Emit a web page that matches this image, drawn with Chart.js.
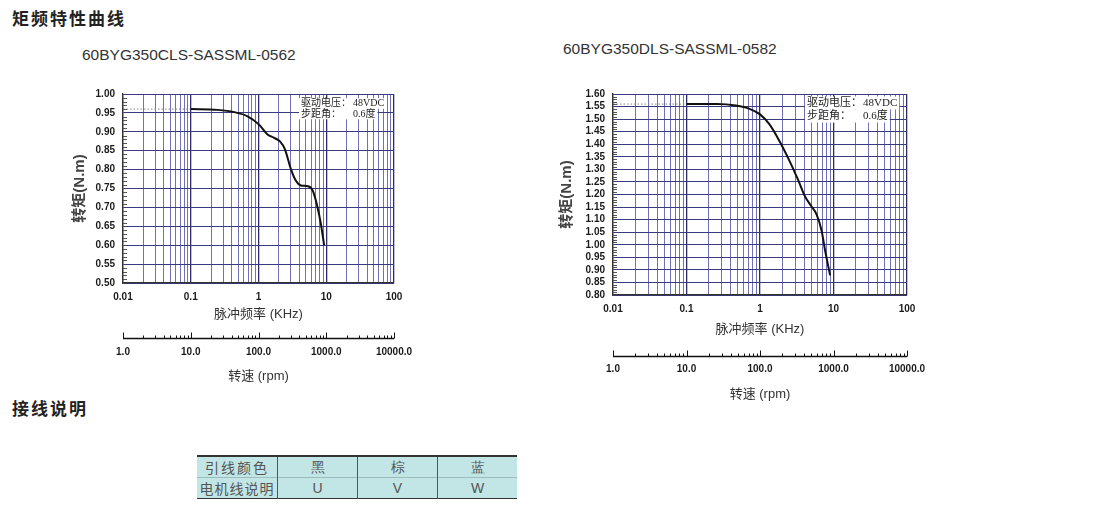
<!DOCTYPE html>
<html>
<head>
<meta charset="utf-8">
<script src="https://cdn.jsdelivr.net/npm/chart.js@4"></script>
<style>
  body { margin: 0; width: 1102px; height: 514px; background: #fff; position: relative; overflow: hidden;
         font-family: "Liberation Sans", "Noto Sans CJK SC", sans-serif; }
  .head { position: absolute; left: 12px; font-size: 17px; line-height: 20px; font-weight: bold; letter-spacing: 2px; color: #222;
          font-family: "Noto Sans CJK SC", sans-serif; }
  .model { position: absolute; font-size: 15.5px; line-height: 18px; color: #333; }
  .box { position: absolute; }
  table.wire { position: absolute; left: 197px; top: 455px; border-collapse: collapse; background: #c2e5e5;
               border-top: 2px solid #333; border-bottom: 1.5px solid #333; color: #555; font-size: 14px;
               font-family: "Noto Sans CJK SC", sans-serif; }
  table.wire td { height: 20px; padding: 0; text-align: center; border-left: 1px solid #555; line-height: 20px; }
  table.wire td:first-child { border-left: none; width: 80px; letter-spacing: 2px; }
  table.wire td.c { width: 79px; font-family: "Liberation Sans", sans-serif; }
  table.wire tr + tr td { border-top: 1px solid #9cbcbc; }
</style>
</head>
<body>
<div class="head" style="top:8px">矩频特性曲线</div>
<div class="model" style="left:82px;top:46px">60BYG350CLS-SASSML-0562</div>
<div class="model" style="left:563px;top:40px">60BYG350DLS-SASSML-0582</div>
<div class="box" style="left:60px;top:80px;width:370px;height:307px"><canvas id="chartCLS"></canvas></div>
<div class="box" style="left:550px;top:80px;width:390px;height:324px"><canvas id="chartDLS"></canvas></div>
<div class="head" style="top:398px">接线说明</div>
<table class="wire">
  <tr><td>引线颜色</td><td class="c">黑</td><td class="c">棕</td><td class="c">蓝</td></tr>
  <tr><td style="letter-spacing:1px">电机线说明</td><td class="c">U</td><td class="c">V</td><td class="c">W</td></tr>
</table>
<script>
// axis decades shared by both plots
const kHzDecades = [0.01, 0.1, 1, 10, 100];
const kHzLabels = ['0.01', '0.1', '1', '10', '100'];
const rpmDecades = [1, 10, 100, 1000, 10000];
const rpmLabels = ['1.0', '10.0', '100.0', '1000.0', '10000.0'];

// 60BYG350CLS-SASSML-0562 (kHz -> N.m)
const freqCLS = [0.1, 0.25, 0.44, 0.69, 1.02, 1.36, 1.7, 2.09, 2.45, 3.0, 3.55, 4.22, 5.4, 6.3, 7.4, 8.3, 9.3];
const torqueCLS = [0.96, 0.958, 0.952, 0.941, 0.919, 0.893, 0.884, 0.874, 0.854, 0.802, 0.771, 0.758, 0.756, 0.745, 0.702, 0.658, 0.60];
const rangeCLS = [0.5, 1.0];

// 60BYG350DLS-SASSML-0582
const freqDLS = [0.1, 0.26, 0.47, 0.72, 1.0, 1.34, 1.83, 2.5, 3.3, 4.1, 5.0, 5.9, 6.9, 7.7, 9.0];
const torqueDLS = [1.56, 1.56, 1.554, 1.541, 1.519, 1.48, 1.414, 1.336, 1.258, 1.192, 1.153, 1.12, 1.055, 0.976, 0.878];
const rangeDLS = [0.8, 1.6];

// dotted lead-in from the left edge to the start of the curve
const leadFreq = [0.01, 0.1];

const noteLabels = ['驱动电压：', '步距角：'];
const noteValues = ['48VDC', '0.6度'];

const tickFont = { family: '"Liberation Sans", Arial, sans-serif', size: 10, weight: 'bold' };
const titleFont = { family: '"Liberation Sans", "Noto Sans CJK SC", sans-serif', size: 13 };

function logTicks(decades) {
    const out = [];
    decades.forEach((d, i) => {
        if (i === decades.length - 1) { out.push({ value: d, major: true }); return; }
        for (let m = 1; m < 10; m++) out.push({ value: d * m, major: m === 1 });
    });
    return out;
}

function decadeLabel(decades, labels) {
    return function(v, i, ts) {
        if (!ts[i].major) return '';
        const k = Math.round(Math.log10(v / decades[0]));
        return labels[k];
    };
}

// minor torque ticks, rpm scale line and the drive note
const axisMarks = {
    id: 'axisMarks',
    afterDraw(chart, args, o) {
        const { ctx, chartArea: a, scales } = chart;
        const y = scales.y, r = scales.x2;
        ctx.save();
        ctx.strokeStyle = '#555';
        ctx.lineWidth = 1;
        y.ticks.forEach(t => {
            if (Math.round(t.value * 100) % 5 === 0) return;
            const py = Math.round(y.getPixelForValue(t.value)) + 0.5;
            ctx.beginPath(); ctx.moveTo(a.left, py); ctx.lineTo(a.left + 4, py); ctx.stroke();
        });

        const base = Math.round(r.top + o.rpmLine) + 0.5;
        ctx.strokeStyle = '#111';
        ctx.lineWidth = 1.3;
        ctx.beginPath(); ctx.moveTo(r.left, base); ctx.lineTo(r.right, base); ctx.stroke();
        ctx.lineWidth = 1;
        r.ticks.forEach(t => {
            const px = Math.round(r.getPixelForValue(t.value)) + 0.5;
            ctx.beginPath(); ctx.moveTo(px, base); ctx.lineTo(px, base - (t.major ? 6 : 3)); ctx.stroke();
        });

        // note in the top right corner
        ctx.font = o.noteSize + 'px "Liberation Serif", "Noto Sans CJK SC", serif';
        ctx.textBaseline = 'middle';
        const x0 = a.right - o.noteRight;
        noteLabels.forEach((lab, i) => {
            const ty = a.top + o.noteTop + i * o.noteGap;
            const w = o.valueOffset + ctx.measureText(noteValues[i]).width;
            ctx.fillStyle = '#fff';
            ctx.fillRect(x0 - 2, ty - o.noteGap / 2, w + 4, o.noteGap);
            ctx.fillStyle = '#222';
            ctx.fillText(lab, x0, ty);
            ctx.fillText(noteValues[i], x0 + o.valueOffset, ty);
        });
        ctx.restore();
    }
};

function makeTorqueChart(id, freq, torque, range, L) {
    const curve = freq.map((f, i) => ({ x: f, y: torque[i] }));
    const lead = leadFreq.map(f => ({ x: f, y: torque[0] }));
    return new Chart(document.getElementById(id), {
        type: 'line',
        data: {
            datasets: [
                { data: curve, borderColor: '#111', borderWidth: 2, pointRadius: 0,
                  cubicInterpolationMode: 'monotone', fill: false },
                { data: lead, borderColor: '#888', borderWidth: 1, borderDash: [1.5, 2],
                  pointRadius: 0, fill: false }
            ]
        },
        options: {
            responsive: true,
            maintainAspectRatio: false,
            animation: false,
            events: [],
            layout: { padding: { top: L.padTop, right: L.padRight, left: 0, bottom: 0 } },
            plugins: {
                legend: { display: false },
                tooltip: { enabled: false },
                axisMarks: L
            },
            scales: {
                x: {
                    type: 'logarithmic', min: kHzDecades[0], max: kHzDecades[kHzDecades.length - 1],
                    afterBuildTicks: s => { s.ticks = logTicks(kHzDecades); },
                    afterFit: s => { s.height = L.xHeight; },
                    grid: {
                        drawTicks: false,
                        color: c => (c.tick && c.tick.major) ? '#2c2c6e' : 'rgba(88,88,170,0.85)',
                        lineWidth: c => (c.tick && c.tick.major) ? 1.3 : 1
                    },
                    border: { color: '#333', width: 1.3 },
                    ticks: { autoSkip: false, maxRotation: 0, padding: L.xPad, color: '#1a1a1a', font: tickFont,
                             callback: decadeLabel(kHzDecades, kHzLabels) },
                    title: { display: true, text: '脉冲频率 (KHz)', color: '#333', font: titleFont,
                             padding: { top: 0, bottom: 3 } }
                },
                x2: {
                    type: 'logarithmic', position: 'bottom', weight: 1,
                    min: rpmDecades[0], max: rpmDecades[rpmDecades.length - 1],
                    afterBuildTicks: s => { s.ticks = logTicks(rpmDecades); },
                    afterFit: s => { s.height = L.rpmHeight; },
                    // hidden tick marks only push the labels down
                    grid: { display: false, drawTicks: true, tickLength: L.rpmGap },
                    border: { display: false },
                    ticks: { autoSkip: false, maxRotation: 0, padding: 0, color: '#1a1a1a', font: tickFont,
                             callback: decadeLabel(rpmDecades, rpmLabels) },
                    title: { display: true, text: '转速 (rpm)', color: '#333', font: titleFont,
                             padding: { top: 0, bottom: L.rpmTitlePad } }
                },
                y: {
                    min: range[0], max: range[1],
                    afterFit: s => { s.width = L.yWidth; },
                    grid: {
                        drawTicks: false,
                        color: c => (Math.round(c.tick.value * 100) % 5 === 0) ? '#3a3a80' : 'rgba(0,0,0,0)',
                        lineWidth: 1
                    },
                    border: { color: '#333', width: 1.3 },
                    ticks: { stepSize: 0.01, autoSkip: false, padding: 8, color: '#1a1a1a', font: tickFont,
                             callback: v => (Math.round(v * 100) % 5 === 0) ? v.toFixed(2) : '' },
                    title: { display: true, text: '转矩(N.m)', color: '#444',
                             font: { family: '"Liberation Sans", "Noto Sans CJK SC", sans-serif', size: 15, weight: 'bold' },
                             padding: { top: L.yTitlePad, bottom: 0 } }
                }
            }
        },
        plugins: [axisMarks]
    });
}

makeTorqueChart('chartCLS', freqCLS, torqueCLS, rangeCLS, {
    padTop: 10.5, padRight: 36, yWidth: 63, xHeight: 42, xPad: 8,
    rpmHeight: 62, rpmLine: 13, rpmGap: 21, rpmTitlePad: 3, yTitlePad: 11,
    noteRight: 93, noteTop: 9.5, noteGap: 10.5, noteSize: 10, valueOffset: 52
});
makeTorqueChart('chartDLS', freqDLS, torqueDLS, rangeDLS, {
    padTop: 10, padRight: 33, yWidth: 63, xHeight: 45, xPad: 8,
    rpmHeight: 64, rpmLine: 16, rpmGap: 23, rpmTitlePad: 2, yTitlePad: 8,
    noteRight: 100, noteTop: 9, noteGap: 13, noteSize: 11, valueOffset: 56
});
</script>
</body>
</html>
